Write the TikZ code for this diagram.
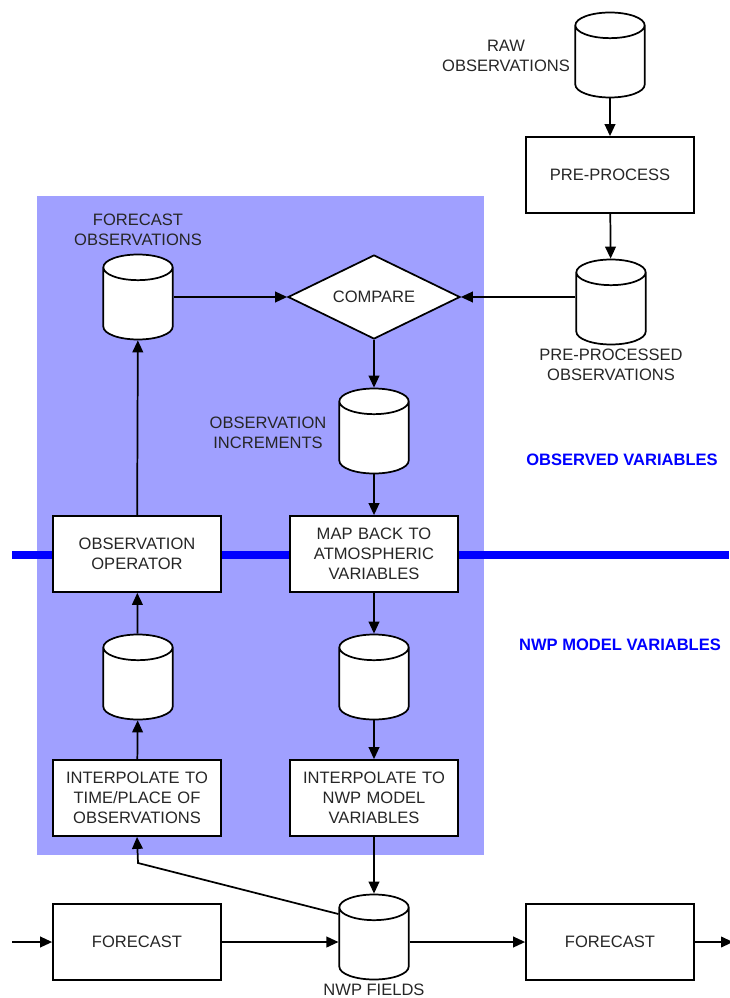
\documentclass[tikz,border=0pt]{standalone}
\usepackage{fontspec}
\setmainfont{Liberation Sans}
\usetikzlibrary{shapes.geometric,arrows.meta}
\definecolor{panelblue}{RGB}{160,160,255}
\definecolor{levelblue}{RGB}{0,0,255}

\begin{document}
\begin{tikzpicture}[x=0.75pt,y=-0.75pt,
    every node/.style={font=\fontsize{12.4}{15}\selectfont, text=black!85},
    procbox/.style={draw, line width=1.3pt, fill=white, align=center, text width=120pt,
        minimum width=126pt, minimum height=57pt, inner sep=0pt},
    store/.style={cylinder, shape border rotate=90, draw, line width=1.3pt, fill=white,
        aspect=0.37, minimum height=63.75pt, inner sep=0pt, anchor=shape center,
        execute at begin node={\rule{52pt}{0pt}}},
    decision/.style={diamond, draw, line width=1.3pt, fill=white, aspect=2,
        minimum width=129pt, minimum height=63pt, inner sep=0pt},
    arr/.style={line width=1.3pt, -{Triangle[width=8pt,length=9pt]}},
    level/.style={font=\fontsize{12.4}{15}\selectfont\bfseries, text=levelblue}]

    % Page size of the reference
    \useasboundingbox (0,0) rectangle (729,998);

    % Shaded assimilation area and the level line
    \fill[panelblue] (37,196) rectangle (484,855);
    \draw[levelblue, line width=5.5pt] (12,555) -- (729,555);

    % Observation side
    \node[store] (rawobs) at (610,55) {};
    \node[align=center] (rawlab) at (506,56) {RAW\\OBSERVATIONS};
    \node[procbox] (preproc) at (610,175) {PRE-PROCESS};
    \node[store] (ppobs) at (611,302) {};
    \node[align=center] (pplab) at (611,365) {PRE-PROCESSED\\OBSERVATIONS};

    % Inside the shaded area, upper part
    \node[store] (fcobs) at (138,297) {};
    \node[align=center] (fclab) at (138,230) {FORECAST\\OBSERVATIONS};
    \node[decision] (compare) at (374,297) {COMPARE};
    \node[store] (obsinc) at (374,431) {};
    \node[align=center] (inclab) at (268,433) {OBSERVATION\\INCREMENTS};

    % Boxes sitting on the level line
    \node[procbox] (obsop) at (137,554) {OBSERVATION\\OPERATOR};
    \node[procbox] (mapback) at (374,554) {MAP BACK TO\\ATMOSPHERIC\\VARIABLES};

    % Lower part of the shaded area
    \node[store] (modobs) at (138,677) {};
    \node[store] (modinc) at (374,677) {};
    \node[procbox] (ipobs) at (137,798) {INTERPOLATE TO\\TIME/PLACE OF\\OBSERVATIONS};
    \node[procbox] (ipmod) at (374,798) {INTERPOLATE TO\\NWP MODEL\\VARIABLES};

    % Forecast chain
    \node[procbox] (fcleft) at (137,942) {FORECAST};
    \node[store] (nwp) at (374,937) {};
    \node (nwplab) at (374,990) {NWP FIELDS};
    \node[procbox] (fcright) at (610,942) {FORECAST};
    \coordinate (chainin) at (12,942);
    \coordinate (chainout) at (733,942);
    \coordinate (bend) at (138,863);

    % Level labels
    \node[level] (obslevel) at (622,460) {OBSERVED VARIABLES};
    \node[level] (nwplevel) at (620,645) {NWP MODEL VARIABLES};

    % Connectors
    \draw[arr] (rawobs) -- (preproc);
    \draw[arr] (preproc) -- (ppobs);
    \draw[arr] (ppobs.west |- compare.east) -- (compare.east);
    \draw[arr] (fcobs.east |- compare.west) -- (compare.west);
    \draw[arr] (compare) -- (obsinc);
    \draw[arr] (obsinc) -- (mapback);
    \draw[arr] (mapback) -- (modinc);
    \draw[arr] (modinc) -- (ipmod);
    \draw[arr] (ipmod) -- (nwp);
    \draw[arr] (obsop) -- (fcobs);
    \draw[arr] (modobs) -- (obsop);
    \draw[arr] (ipobs) -- (modobs);
    \draw[arr] (nwp.140) -- (bend) -- (ipobs.south);
    \draw[arr] (chainin) -- (fcleft);
    \draw[arr] (fcleft) -- (fcleft -| nwp.west);
    \draw[arr] (fcright -| nwp.east) -- (fcright);
    \draw[arr] (fcright) -- (chainout);

\end{tikzpicture}
\end{document}
